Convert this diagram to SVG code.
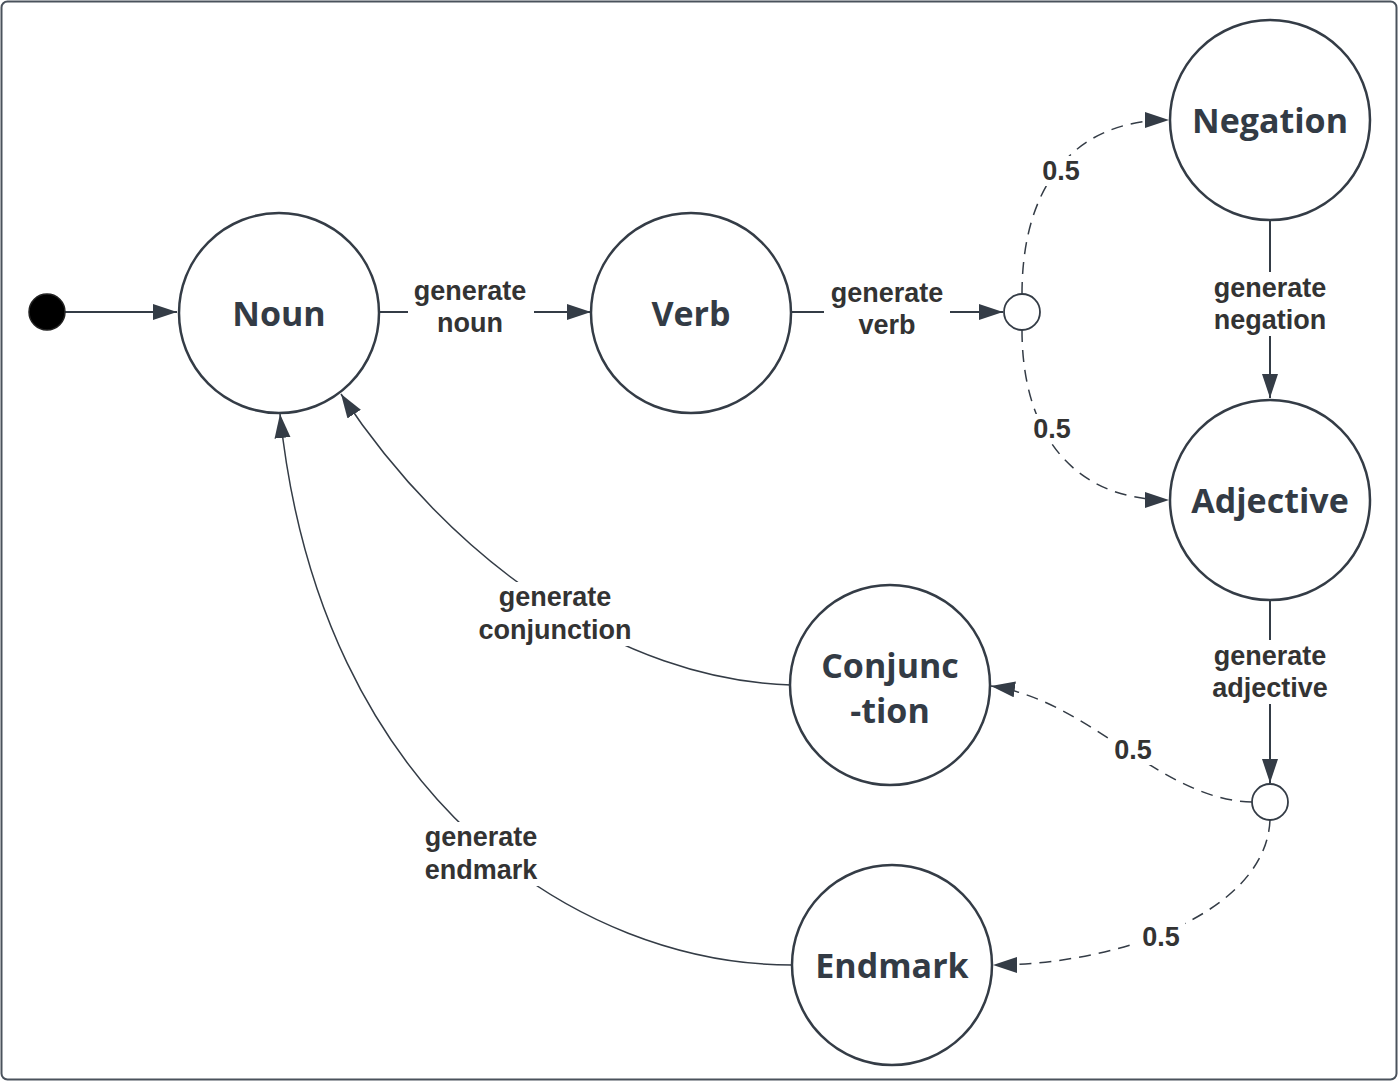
<svg xmlns="http://www.w3.org/2000/svg" width="1400" height="1083" viewBox="0 0 1400 1083">
<style>
.node{fill:#fff;stroke:#343c46;stroke-width:2.5}
.nt{font-family:"Open Sans","Liberation Sans",sans-serif;font-weight:bold;font-size:34px;fill:#333b45;text-anchor:middle}
.el{font-family:"Liberation Sans",Arial,sans-serif;font-weight:bold;font-size:27px;fill:#333333;text-anchor:middle}
.c{fill:none;stroke:#343c46;stroke-width:2}
.cs{fill:none;stroke:#343c46;stroke-width:1.5}
.d{fill:none;stroke:#343c46;stroke-width:1.5;stroke-dasharray:12 8}
.bg{fill:#fff}
</style>
<defs>
<marker id="arr" markerUnits="userSpaceOnUse" markerWidth="26" markerHeight="18" refX="24" refY="8" orient="auto">
<path d="M0,0 L24,8 L0,16 Z" fill="#343c46"/>
</marker>
</defs>
<rect x="0" y="0" width="1400" height="1083" fill="#fff"/>
<rect x="1.5" y="1.5" width="1395" height="1078" rx="6" fill="#fff" stroke="#4a525c" stroke-width="2"/>

<g id="connectors">
<path class="c" d="M65,312 L177,312" marker-end="url(#arr)"/>
<path class="c" d="M378,312 L591,312" marker-end="url(#arr)"/>
<path class="c" d="M790,312 L1003,312" marker-end="url(#arr)"/>
<path class="d" d="M1022,294 C1022,190 1070,120 1169,120" marker-end="url(#arr)"/>
<path class="d" d="M1022,330 C1022,430 1070,500 1169,500" marker-end="url(#arr)"/>
<path class="c" d="M1270,220 L1270,398" marker-end="url(#arr)"/>
<path class="c" d="M1270,599 L1270,783" marker-end="url(#arr)"/>
<path class="d" d="M1252,802 C1160,800 1090,700 991,686" marker-end="url(#arr)"/>
<path class="d" d="M1270,820 C1266,912 1120,965 993,965" marker-end="url(#arr)"/>
<path class="cs" d="M791,685 C620,680 450,560 341,394" marker-end="url(#arr)"/>
<path class="cs" d="M792,965 C580,965 320,800 280,414" marker-end="url(#arr)"/>

<rect class="bg" x="408" y="278" width="126" height="62"/>
<text class="el" x="470" y="300">generate</text>
<text class="el" x="470" y="332">noun</text>
<rect class="bg" x="824" y="278" width="126" height="62"/>
<text class="el" x="887" y="302">generate</text>
<text class="el" x="887" y="334">verb</text>
<rect class="bg" x="1206" y="272" width="128" height="64"/>
<text class="el" x="1270" y="297">generate</text>
<text class="el" x="1270" y="329">negation</text>
<rect class="bg" x="1204" y="640" width="132" height="64"/>
<text class="el" x="1270" y="665">generate</text>
<text class="el" x="1270" y="697">adjective</text>
<rect class="bg" x="472" y="582" width="166" height="64"/>
<text class="el" x="555" y="606">generate</text>
<text class="el" x="555" y="639">conjunction</text>
<rect class="bg" x="418" y="822" width="126" height="64"/>
<text class="el" x="481" y="846">generate</text>
<text class="el" x="481" y="879">endmark</text>
<rect class="bg" x="1037" y="156" width="48" height="30"/>
<text class="el" x="1061" y="180">0.5</text>
<rect class="bg" x="1028" y="414" width="48" height="30"/>
<text class="el" x="1052" y="438">0.5</text>
<rect class="bg" x="1109" y="735" width="48" height="30"/>
<text class="el" x="1133" y="759">0.5</text>
<rect class="bg" x="1137" y="922" width="48" height="30"/>
<text class="el" x="1161" y="946">0.5</text>
</g>

<g id="start"><circle cx="47" cy="312" r="18" fill="#000" stroke="#222" stroke-width="1.5"/></g>
<g id="noun"><circle class="node" cx="279" cy="313" r="100"/><text class="nt" x="279" y="326">Noun</text></g>
<g id="verb"><circle class="node" cx="691" cy="313" r="100"/><text class="nt" x="691" y="326">Verb</text></g>
<g id="choice1"><circle fill="#fff" stroke="#343c46" stroke-width="1.8" cx="1022" cy="312" r="18"/></g>
<g id="negation"><circle class="node" cx="1270" cy="120" r="100"/><text class="nt" x="1270" y="133">Negation</text></g>
<g id="adjective"><circle class="node" cx="1270" cy="500" r="100"/><text class="nt" x="1270" y="513">Adjective</text></g>
<g id="choice2"><circle fill="#fff" stroke="#343c46" stroke-width="1.8" cx="1270" cy="802" r="18"/></g>
<g id="conjunction"><circle class="node" cx="890" cy="685" r="100"/><text class="nt" x="890" y="678">Conjunc</text><text class="nt" x="890" y="723">-tion</text></g>
<g id="endmark"><circle class="node" cx="892" cy="965" r="100"/><text class="nt" x="892" y="978">Endmark</text></g>
</svg>
